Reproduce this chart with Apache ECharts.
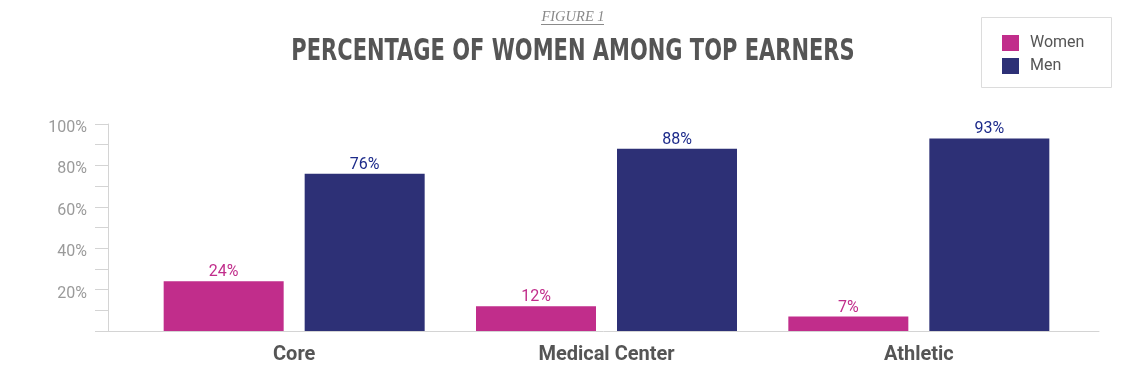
<!DOCTYPE html>
<html>
<head>
<meta charset="utf-8">
<script src="https://cdn.jsdelivr.net/npm/echarts@6/dist/echarts.min.js"></script>
<style>html,body{margin:0;padding:0;background:#fff}#c{width:1148px;height:382px}</style>
</head>
<body>
<div id="c"></div>
<script>
const categories = ['Core', 'Medical Center', 'Athletic'];
const women = [24, 12, 7];
const men = [76, 88, 93];
const yTickLabels = ['20%', '40%', '60%', '80%', '100%'];

const chart = echarts.init(document.getElementById('c'), null, {renderer: 'canvas'});
const option = {
  animation: false,
  backgroundColor: '#fff',
  grid: [
    {left: 108, right: 49, top: 124, bottom: 51},
    {left: 138, right: 73, top: 124, bottom: 51}
  ],
  xAxis: [
    {gridIndex: 0, type: 'category', data: [''], axisLine: {lineStyle: {color: '#d4d4d4', width: 1}},
     axisTick: {show: false}, axisLabel: {show: false}},
    {gridIndex: 1, type: 'category', data: categories, axisLine: {show: false}, axisTick: {show: false},
     axisLabel: {fontFamily: 'Roboto', fontWeight: 'bold', fontSize: 20, color: '#555', margin: 14}}
  ],
  yAxis: [
    {gridIndex: 0, type: 'value', min: 0, max: 100, interval: 10,
     axisLine: {show: true, lineStyle: {color: '#d4d4d4'}},
     axisTick: {show: true, length: 13, lineStyle: {color: '#d4d4d4'}},
     splitLine: {show: false},
     axisLabel: {margin: 21, fontFamily: 'Roboto', fontSize: 16, color: '#9a9a9a', verticalAlign: 'top', lineHeight: 8,
       formatter: function (v) { const i = yTickLabels.indexOf(v + '%'); return i >= 0 ? yTickLabels[i] : ''; }}},
    {gridIndex: 1, type: 'value', min: 0, max: 100, show: false}
  ],
  legend: {
    orient: 'vertical', left: 997, top: 30, itemWidth: 17, itemHeight: 16, itemGap: 7,
    icon: 'rect', textStyle: {fontFamily: 'Roboto', fontSize: 16, color: '#555', padding: [0, 0, 0, 6]},
    data: ['Women', 'Men']
  },
  graphic: [
    {type: 'rect', shape: {x: 981.5, y: 17.5, width: 130, height: 70}, style: {fill: 'none', stroke: '#dcdcdc', lineWidth: 1}},
    {type: 'text', x: 573, y: 17, style: {text: 'FIGURE 1', font: 'italic 14.5px "Liberation Serif"', fill: '#8a8a8a', align: 'center', verticalAlign: 'middle'}},
    {type: 'line', shape: {x1: 541, y1: 24.5, x2: 604, y2: 24.5}, style: {stroke: '#8a8a8a', lineWidth: 1}},
    {type: 'text', x: 573, y: 52.5, scaleX: 0.765, style: {text: 'PERCENTAGE OF WOMEN AMONG TOP EARNERS', font: 'bold 30.5px "DejaVu Sans Condensed"', fill: '#555', align: 'center', verticalAlign: 'middle'}}
  ],
  series: [
    {name: 'Women', type: 'bar', xAxisIndex: 1, yAxisIndex: 1, data: women, barWidth: 120, barGap: '17.5%',
     itemStyle: {color: '#c12d8b'},
     label: {show: true, position: 'top', distance: 1, formatter: '{c}%', fontFamily: 'Roboto', fontSize: 16, color: '#c12d8b'}},
    {name: 'Men', type: 'bar', xAxisIndex: 1, yAxisIndex: 1, data: men, barWidth: 120, barGap: '17.5%',
     itemStyle: {color: '#2d3076'},
     label: {show: true, position: 'top', distance: 1, formatter: '{c}%', fontFamily: 'Roboto', fontSize: 16, color: '#1c2a8a'}}
  ]
};
chart.setOption(option);
</script>
</body>
</html>
